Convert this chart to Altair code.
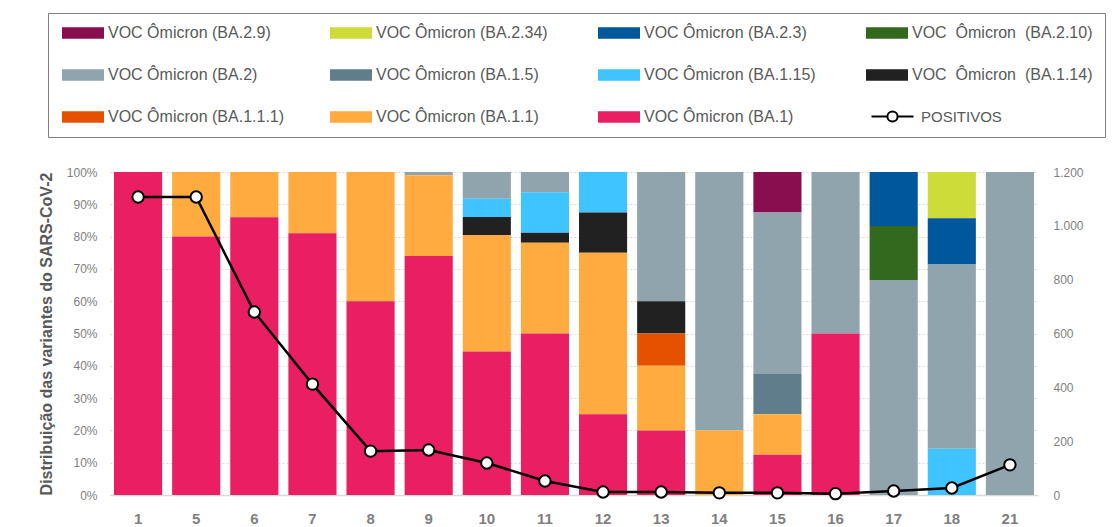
import altair as alt
import pandas as pd

NB = "\u00a0"
categories = ["1", "5", "6", "7", "8", "9", "10", "11", "12", "13", "14", "15", "16", "17", "18", "21"]

# legend order (reading order, row by row)
variant_labels = [
    "VOC Ômicron (BA.2.9)",
    f"{NB}VOC Ômicron (BA.2.34)",
    "VOC Ômicron (BA.2.3)",
    f"VOC {NB}Ômicron {NB}(BA.2.10)",
    "VOC Ômicron (BA.2)",
    f"{NB}{NB}VOC Ômicron (BA.1.5)",
    "VOC Ômicron (BA.1.15)",
    f"VOC {NB}Ômicron {NB}(BA.1.14)",
    "VOC Ômicron (BA.1.1.1)",
    f"{NB}{NB}VOC Ômicron (BA.1.1)",
    "VOC Ômicron (BA.1)",
]
variant_colors = ["#880E4F", "#CDDC39", "#01579B", "#33691E", "#90A4AE", "#607D8B",
                  "#40C4FF", "#212121", "#E65100", "#FFAB40", "#E91E63"]

# percentages per category (same order as categories)
ba_2_9   = [0, 0, 0, 0, 0, 0, 0, 0, 0, 0, 0, 12.5, 0, 0, 0, 0]
ba_2_34  = [0, 0, 0, 0, 0, 0, 0, 0, 0, 0, 0, 0, 0, 0, 14.3, 0]
ba_2_3   = [0, 0, 0, 0, 0, 0, 0, 0, 0, 0, 0, 0, 0, 16.7, 14.3, 0]
ba_2_10  = [0, 0, 0, 0, 0, 0, 0, 0, 0, 0, 0, 0, 0, 16.7, 0, 0]
ba_2     = [0, 0, 0, 0, 0, 1, 8.3, 6.3, 0, 40, 80, 50, 50, 66.6, 57.1, 100]
ba_1_5   = [0, 0, 0, 0, 0, 0, 0, 0, 0, 0, 0, 12.5, 0, 0, 0, 0]
ba_1_15  = [0, 0, 0, 0, 0, 0, 5.6, 12.5, 12.5, 0, 0, 0, 0, 0, 14.3, 0]
ba_1_14  = [0, 0, 0, 0, 0, 0, 5.6, 3.1, 12.5, 10, 0, 0, 0, 0, 0, 0]
ba_1_1_1 = [0, 0, 0, 0, 0, 0, 0, 0, 0, 10, 0, 0, 0, 0, 0, 0]
ba_1_1   = [0, 20, 14, 19, 40, 25, 36.1, 28.1, 50, 20, 20, 12.5, 0, 0, 0, 0]
ba_1     = [100, 80, 86, 81, 60, 74, 44.4, 50, 25, 20, 0, 12.5, 50, 0, 0, 0]

positivos = [1107, 1107, 680, 412, 163, 167, 119, 52, 11, 11, 8, 8, 5, 15, 26, 112]

series = [ba_2_9, ba_2_34, ba_2_3, ba_2_10, ba_2, ba_1_5, ba_1_15, ba_1_14, ba_1_1_1, ba_1_1, ba_1]

rows = []
n = len(variant_labels)
for i, (lab, vals) in enumerate(zip(variant_labels, series)):
    for c, v in zip(categories, vals):
        if v > 0:
            rows.append({"cat": c, "variant": lab, "pct": v, "ord": n - 1 - i})
bars_df = pd.DataFrame(rows)
line_df = pd.DataFrame({"cat": categories, "pos": positivos, "serie": ["POSITIVOS"] * len(categories)})

FONT = "Liberation Sans"
GRAY = "#7f7f7f"
DARK = "#595959"

x_enc = alt.X("cat:N", sort=categories, title=None,
              scale=alt.Scale(paddingInner=0.172, paddingOuter=0.069),
              axis=alt.Axis(labelAngle=0, labelFont=FONT, labelFontSize=15, labelFontWeight="bold",
                            labelColor=GRAY, ticks=False, labelPadding=16,
                            domainColor="#d9d9d9", domainWidth=1.5))

swatch = "M-3.5,-0.95H3.5V0.95H-3.5Z"

bars = alt.Chart(bars_df).mark_bar().encode(
    x=x_enc,
    y=alt.Y("pct:Q", stack="normalize", title="Distribuição das variantes do SARS-CoV-2",
            scale=alt.Scale(domain=[0, 1]),
            axis=alt.Axis(format=".0%", values=[i / 10 for i in range(11)], ticks=False, domain=False,
                          labelFont=FONT, labelFontSize=12, labelColor=GRAY, labelPadding=13,
                          gridColor="#d9d9d9", gridDash=[2, 2],
                          titleFont=FONT, titleFontSize=16, titleFontWeight="bold", titleColor=DARK,
                          titlePadding=12)),
    color=alt.Color("variant:N", scale=alt.Scale(domain=variant_labels, range=variant_colors),
                    legend=alt.Legend(orient="none", legendX=-62, legendY=-159, columns=4,
                                      direction="horizontal",
                                      gridAlign="all", title=None, symbolType=swatch, symbolSize=144,
                                      symbolStrokeWidth=0, symbolOffset=15,
                                      labelFont=FONT, labelFontSize=16,
                                      labelColor=DARK, labelOffset=17, labelLimit=400,
                                      columnPadding=39, rowPadding=26, padding=12,
                                      strokeColor="#7f7f7f")),
    order=alt.Order("ord:Q"),
)

pos_path = "M-3.5,0H-0.85A0.85,0.85 0 1,1 0.85,0A0.85,0.85 0 1,1 -0.85,0M0.85,0H3.5"

line = alt.Chart(line_df).mark_line(strokeWidth=2.5).encode(
    x=alt.X("cat:N", sort=categories),
    y=alt.Y("pos:Q", title=None, scale=alt.Scale(domain=[0, 1200]),
            axis=alt.Axis(orient="right", values=[0, 200, 400, 600, 800, 1000, 1200], grid=False,
                          ticks=False, domain=False, labelFont=FONT, labelFontSize=12,
                          labelColor=GRAY, labelPadding=15,
                          labelExpr="replace(format(datum.value, ','), ',', '.')")),
    stroke=alt.Stroke("serie:N", scale=alt.Scale(range=["black"]),
                      legend=alt.Legend(orient="none", legendX=760, legendY=-63, title=None,
                                        symbolType=pos_path, symbolSize=144, symbolStrokeWidth=2,
                                        symbolOffset=15,
                                        symbolFillColor="white", labelFont=FONT, labelFontSize=15,
                                        labelColor=DARK, labelOffset=21, padding=0)),
)
points = alt.Chart(line_df).mark_point(filled=True, fill="white", stroke="black", strokeWidth=2,
                                       size=130, opacity=1).encode(
    x=alt.X("cat:N", sort=categories),
    y=alt.Y("pos:Q"),
)

chart = alt.layer(bars, alt.layer(line, points)).resolve_scale(y="independent").properties(
    width=928, height=323,
    autosize=alt.AutoSizeParams(type="none"),
    padding={"left": 102, "top": 164, "right": 69, "bottom": 32},
).configure_view(stroke=None)

chart.save("out.html", embed_options={"renderer": "svg", "actions": False})
